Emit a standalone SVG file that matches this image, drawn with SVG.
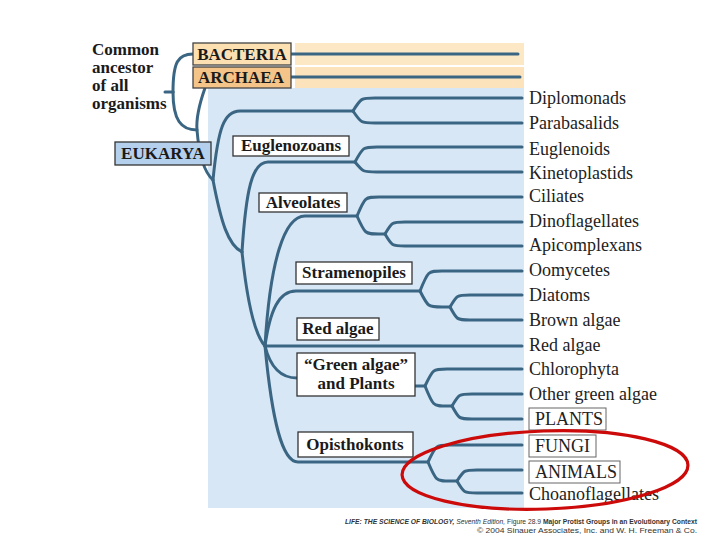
<svg xmlns="http://www.w3.org/2000/svg" width="720" height="540" viewBox="0 0 720 540">
<style>
.br{fill:none;stroke:#3b6683;stroke-width:3;stroke-linecap:round;stroke-linejoin:round}
.lbl{font-family:"Liberation Serif","Times New Roman",serif;font-size:18px;fill:#222}
.box{fill:#fff;stroke:#333;stroke-width:1.3}
.bt{font-family:"Liberation Serif","Times New Roman",serif;font-weight:bold;font-size:17px;fill:#1a1a1a}
.cap{font-family:"Liberation Sans",Arial,sans-serif;font-size:7px;fill:#333}
.tb{fill:#fff;stroke:#666;stroke-width:1}
</style>
<rect width="720" height="540" fill="#fff"/>
<!-- backgrounds -->
<rect x="208" y="88" width="316" height="420" fill="#d7e7f6"/>
<rect x="295" y="43" width="229" height="22" fill="#fde8c6"/>
<rect x="295" y="67" width="229" height="21" fill="#fde3bb"/>

<g id="connectors">
<path class="br" d="M165,92 L173,92"/>
<path class="br" d="M173,92 C173,62 178,54 193,54"/>
<path class="br" d="M173,92 C173,120 181,130 197,130"/>
<path class="br" d="M291,54 L518,54"/>
<path class="br" d="M291,77 L520,77"/>
<path class="br" d="M205,88 C199,105 196,118 197,130 C199,155 204,172 213,180"/>
<path class="br" d="M213,180 C218,128 224,111 240,111 L353,111"/>
<path class="br" d="M213,180 C221,222 228,245 242,252"/>
<path class="br" d="M242,252 C246,190 252,162 268,162 L355,162"/>
<path class="br" d="M242,252 C247,300 255,335 265,346"/>
<path class="br" d="M265,346 C270,262 284,216 305,216 L357,216"/>
<path class="br" d="M265,346 C270,310 279,291 296,291 L420,291"/>
<path class="br" d="M265,346 L522,346"/>
<path class="br" d="M265,346 C270,366 280,378 297,378 L410,378"/>
<path class="br" d="M265,346 C272,420 282,462 298,462 L428,462"/>
<!-- Diplomonads / Parabasalids -->
<path class="br" d="M353,111 C361,98 361,98 375,98 L522,98"/>
<path class="br" d="M353,111 C361,123 361,123 375,123 L522,123"/>
<!-- Euglenozoans -->
<path class="br" d="M355,162 C363,147 363,147 377,147 L522,147"/>
<path class="br" d="M355,162 C363,172 363,172 377,172 L522,172"/>
<!-- Alveolates -->
<path class="br" d="M357,216 C365,197 365,197 379,197 L522,197"/>
<path class="br" d="M357,216 C365,234 365,234 379,234 L385,234"/>
<path class="br" d="M385,234 C392,222 392,222 405,222 L522,222"/>
<path class="br" d="M385,234 C392,246 392,246 405,246 L522,246"/>
<!-- Stramenopiles -->
<path class="br" d="M420,291 C428,271 428,271 442,271 L522,271"/>
<path class="br" d="M420,291 C428,307 428,307 442,307 L450,307"/>
<path class="br" d="M450,307 C457,295 457,295 470,295 L522,295"/>
<path class="br" d="M450,307 C457,320 457,320 470,320 L522,320"/>
<!-- Green algae -->
<path class="br" d="M405,386 L425,386"/>
<path class="br" d="M425,386 C433,369 433,369 447,369 L522,369"/>
<path class="br" d="M425,386 C433,406 433,406 447,406 L452,406"/>
<path class="br" d="M452,406 C459,394 459,394 472,394 L522,394"/>
<path class="br" d="M452,406 C459,419 459,419 472,419 L522,419"/>
<!-- Opisthokonts -->
<path class="br" d="M428,462 C436,445 436,445 450,445 L522,445"/>
<path class="br" d="M428,462 C436,481 436,481 450,481 L457,481"/>
<path class="br" d="M457,481 C464,470 464,470 477,470 L522,470"/>
<path class="br" d="M457,481 C464,493 464,493 477,493 L522,493"/>
</g>

<g id="common">
<text class="bt" x="92" y="55">Common</text>
<text class="bt" x="92" y="73">ancestor</text>
<text class="bt" x="92" y="91">of all</text>
<text class="bt" x="92" y="109">organisms</text>
</g>
<g id="bacteria">
<rect x="193" y="43" width="98" height="22" fill="#fce0b2" stroke="#444" stroke-width="1.3"/>
<text class="bt" x="242" y="60" text-anchor="middle" font-size="16" fill="#4a2e14">BACTERIA</text>
</g>
<g id="archaea">
<rect x="193" y="67" width="98" height="21" fill="#f5c488" stroke="#444" stroke-width="1.3"/>
<text class="bt" x="241" y="83" text-anchor="middle" font-size="16" fill="#4a2e14">ARCHAEA</text>
</g>
<g id="eukarya">
<rect x="115" y="142" width="96" height="23" fill="#b5d0ec" stroke="#333" stroke-width="1.3"/>
<text class="bt" x="163" y="159" text-anchor="middle" fill="#1c2a3e">EUKARYA</text>
</g>
<g id="euglenozoans">
<rect class="box" x="233" y="136" width="116" height="20"/>
<text class="bt" x="291" y="151" text-anchor="middle">Euglenozoans</text>
</g>
<g id="alveolates">
<rect class="box" x="259" y="193" width="88" height="19"/>
<text class="bt" x="303" y="208" text-anchor="middle">Alveolates</text>
</g>
<g id="stramenopiles">
<rect class="box" x="296" y="262" width="116" height="22"/>
<text class="bt" x="354" y="278" text-anchor="middle">Stramenopiles</text>
</g>
<g id="redalgae-group">
<rect class="box" x="297" y="318" width="82" height="22"/>
<text class="bt" x="338" y="334" text-anchor="middle">Red algae</text>
</g>
<g id="greenalgae-group">
<rect class="box" x="297" y="353" width="118" height="43"/>
<text class="bt" x="356" y="370" text-anchor="middle" font-size="16">“Green algae”</text>
<text class="bt" x="356" y="389" text-anchor="middle" font-size="16">and Plants</text>
</g>
<g id="opisthokonts">
<rect class="box" x="298" y="432" width="115" height="25"/>
<text class="bt" x="355" y="450" text-anchor="middle">Opisthokonts</text>
</g>

<g id="taxa">
<text class="lbl" x="529" y="104">Diplomonads</text>
<text class="lbl" x="529" y="129">Parabasalids</text>
<text class="lbl" x="529" y="155">Euglenoids</text>
<text class="lbl" x="529" y="179">Kinetoplastids</text>
<text class="lbl" x="529" y="202">Ciliates</text>
<text class="lbl" x="529" y="227">Dinoflagellates</text>
<text class="lbl" x="529" y="251">Apicomplexans</text>
<text class="lbl" x="529" y="276">Oomycetes</text>
<text class="lbl" x="529" y="301">Diatoms</text>
<text class="lbl" x="529" y="326">Brown algae</text>
<text class="lbl" x="529" y="351">Red algae</text>
<text class="lbl" x="529" y="375">Chlorophyta</text>
<text class="lbl" x="529" y="400">Other green algae</text>
</g>
<g id="plants">
<rect class="tb" x="529" y="408" width="77" height="22"/>
<text class="lbl" x="535" y="425" font-size="17">PLANTS</text>
</g>
<g id="fungi">
<rect class="tb" x="529" y="435" width="67" height="22"/>
<text class="lbl" x="535" y="452" font-size="17">FUNGI</text>
</g>
<g id="animals">
<rect class="tb" x="529" y="461" width="91" height="22"/>
<text class="lbl" x="535" y="478" font-size="17">ANIMALS</text>
</g>
<g id="choano">
<text class="lbl" x="529" y="500">Choanoflagellates</text>
</g>

<g id="highlight">
<ellipse cx="545" cy="470" rx="143" ry="39" transform="rotate(-2 545 470)" fill="none" stroke="#cc0a0a" stroke-width="3.2"/>
</g>

<g id="caption">
<text class="cap" x="345" y="524" textLength="352" lengthAdjust="spacingAndGlyphs"><tspan font-weight="bold" font-style="italic">LIFE: THE SCIENCE OF BIOLOGY,</tspan><tspan font-style="italic"> Seventh Edition,</tspan> Figure 28.9 <tspan font-weight="bold">Major Protist Groups in an Evolutionary Context</tspan></text>
<text class="cap" x="477" y="533" textLength="220" lengthAdjust="spacingAndGlyphs" fill="#666">© 2004 Sinauer Associates, Inc. and W. H. Freeman &amp; Co.</text>
</g>
</svg>
